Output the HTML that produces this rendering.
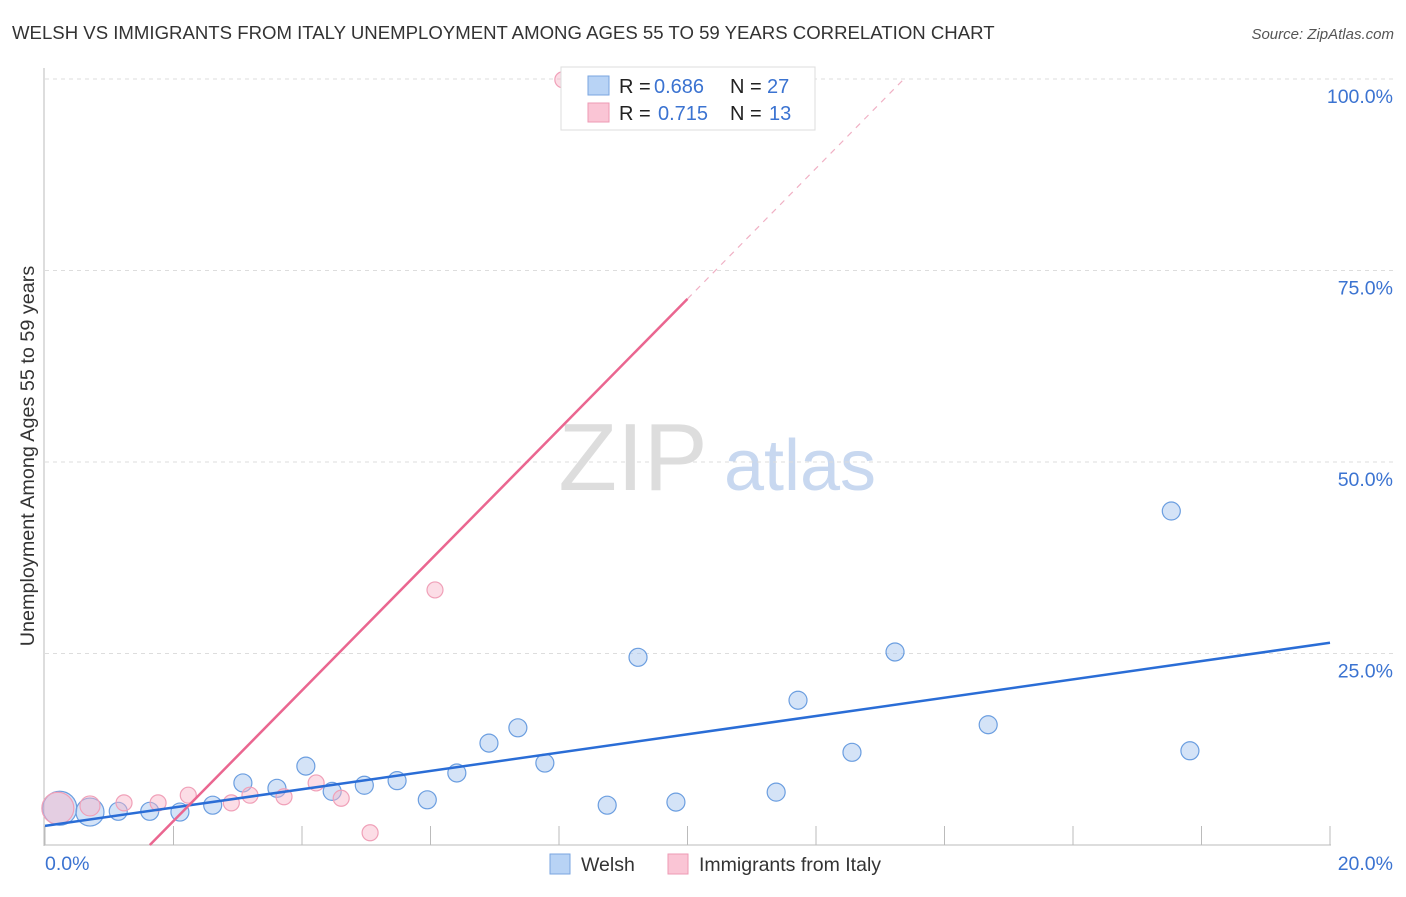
<!DOCTYPE html>
<html><head><meta charset="utf-8"><style>
body{margin:0;background:#fff;font-family:"Liberation Sans",sans-serif;}
svg text{font-family:"Liberation Sans",sans-serif;}
</style></head><body>
<svg width="1406" height="892" viewBox="0 0 1406 892" xmlns="http://www.w3.org/2000/svg">
<text x="12" y="39" font-size="18.6" fill="#333">WELSH VS IMMIGRANTS FROM ITALY UNEMPLOYMENT AMONG AGES 55 TO 59 YEARS CORRELATION CHART</text>
<text x="1394" y="39" font-size="15" fill="#555" font-style="italic" text-anchor="end">Source: ZipAtlas.com</text>
<g>
<text x="633" y="490" font-size="96" fill="#ddd" font-family="Liberation Serif" text-anchor="middle">ZIP</text>
<text x="800" y="490" font-size="72" fill="#c8d8f0" text-anchor="middle">atlas</text>
</g>
<g id="grid"></g>
<g id="axes"></g>
<g id="marks"></g>
<text transform="translate(34,456) rotate(-90)" font-size="19.8" fill="#333" text-anchor="middle">Unemployment Among Ages 55 to 59 years</text>
<g>
<rect x="561" y="67" width="254" height="63" fill="#fff" stroke="#ddd"/>
<rect x="588" y="76" width="21" height="19" fill="#b8d3f5" stroke="#7aa6e0"/>
<rect x="588" y="103" width="21" height="19" fill="#fac5d5" stroke="#ee9ab4"/>
<text x="619" y="93" font-size="20" fill="#222">R =</text>
<text x="654" y="93" font-size="20" fill="#3b73d1">0.686</text>
<text x="730" y="93" font-size="20" fill="#222">N =</text>
<text x="767" y="93" font-size="20" fill="#3b73d1">27</text>
<text x="619" y="120" font-size="20" fill="#222">R =</text>
<text x="658" y="120" font-size="20" fill="#3b73d1">0.715</text>
<text x="730" y="120" font-size="20" fill="#222">N =</text>
<text x="769" y="120" font-size="20" fill="#3b73d1">13</text>
</g>
<g>
<rect x="550" y="854" width="20" height="20" fill="#b8d3f5" stroke="#7aa6e0"/>
<text x="581" y="871" font-size="19.5" fill="#333">Welsh</text>
<rect x="668" y="854" width="20" height="20" fill="#fac5d5" stroke="#ee9ab4"/>
<text x="699" y="871" font-size="19.5" fill="#333">Immigrants from Italy</text>
</g>
</svg>
<script>
const welshX=[0.23,0.7,1.14,1.63,2.1,2.61,3.08,3.61,4.06,4.47,4.97,5.48,5.95,6.41,6.91,7.36,7.78,8.75,9.23,9.82,11.38,11.72,12.56,13.23,14.68,17.53,17.82];
const welshY=[4.8,4.3,4.4,4.4,4.3,5.2,8.1,7.4,10.3,7.0,7.8,8.4,5.9,9.4,13.3,15.3,10.7,5.2,24.5,5.6,6.9,18.9,12.1,25.2,15.7,43.6,12.3];
const welshR=[17,14,9,9,9,9,9,9,9,9,9,9,9,9,9,9,9,9,9,9,9,9,9,9,9,9,9];
const italyX=[0.2,0.7,1.23,1.76,2.23,2.9,3.19,3.72,4.22,4.61,5.06,6.07,8.06];
const italyY=[4.8,5.1,5.5,5.5,6.5,5.5,6.5,6.3,8.1,6.1,1.6,33.3,99.9];
const italyR=[16,10,8,8,8,8,8,8,8,8,8,8,8];
const yTicks=[25,50,75,100];
const yTickLabels=["25.0%","50.0%","75.0%","100.0%"];
const xTicks=[0,2,4,6,8,10,12,14,16,18,20];
const welshLine=[2.5,26.4];
const italyLine=[-13.9,8.52];
const NS="http://www.w3.org/2000/svg";
const sx=v=>45+v*64.25, sy=v=>845-v*7.66;
function mk(tag,attrs,parent){const e=document.createElementNS(NS,tag);for(const k in attrs)e.setAttribute(k,attrs[k]);document.getElementById(parent).appendChild(e);return e;}
yTicks.forEach((t,i)=>{
 const g=mk('line',{x1:45,x2:1395,y1:sy(t),y2:sy(t),stroke:'#ddd','stroke-dasharray':'4,4'},'grid');
 
 
 const l=mk('text',{x:1393,y:sy(t)+24,'font-size':19.5,fill:'#3b73d1','text-anchor':'end'},'grid');
 l.textContent=yTickLabels[i];
 
 
});
let a=mk('line',{x1:44,x2:44,y1:68,y2:846,stroke:'#bbb'},'axes');


a=mk('line',{x1:44,x2:1331,y1:845,y2:845,stroke:'#bbb'},'axes');


xTicks.forEach(t=>{const e=mk('line',{x1:sx(t),x2:sx(t),y1:826,y2:845,stroke:'#bbb'},'axes');
 
 });
let tl=mk('text',{x:45,y:870,'font-size':19.5,fill:'#3b73d1'},'axes');tl.textContent='0.0%';


tl=mk('text',{x:1393,y:870,'font-size':19.5,fill:'#3b73d1','text-anchor':'end'},'axes');tl.textContent='20.0%';


welshX.forEach((x,i)=>{const c=mk('circle',{cx:sx(x),cy:sy(welshY[i]),r:welshR[i],fill:'rgba(170,200,240,0.5)',stroke:'#6b9ee0','stroke-width':1.2},'marks');
 
 });
italyX.forEach((x,i)=>{const c=mk('circle',{cx:sx(x),cy:sy(italyY[i]),r:italyR[i],fill:'rgba(248,180,200,0.45)',stroke:'#f0a0b8','stroke-width':1.2},'marks');
 
 });
let l=mk('line',{x1:sx(0),y1:sy(welshLine[0]),x2:sx(20),y2:sy(welshLine[1]),stroke:'#2a6dd6','stroke-width':2.5},'marks');


const iy=x=>italyLine[0]+italyLine[1]*x;
const x0=-italyLine[0]/italyLine[1], x1=10, x2=(100-italyLine[0])/italyLine[1];
l=mk('line',{x1:sx(x0),y1:sy(0),x2:sx(x1),y2:sy(iy(x1)),stroke:'#ea6690','stroke-width':2.5},'marks');


l=mk('line',{x1:sx(x1),y1:sy(iy(x1)),x2:sx(x2),y2:sy(100),stroke:'#f0b0c4','stroke-width':1.2,'stroke-dasharray':'6,6'},'marks');


</script>
</body></html>
